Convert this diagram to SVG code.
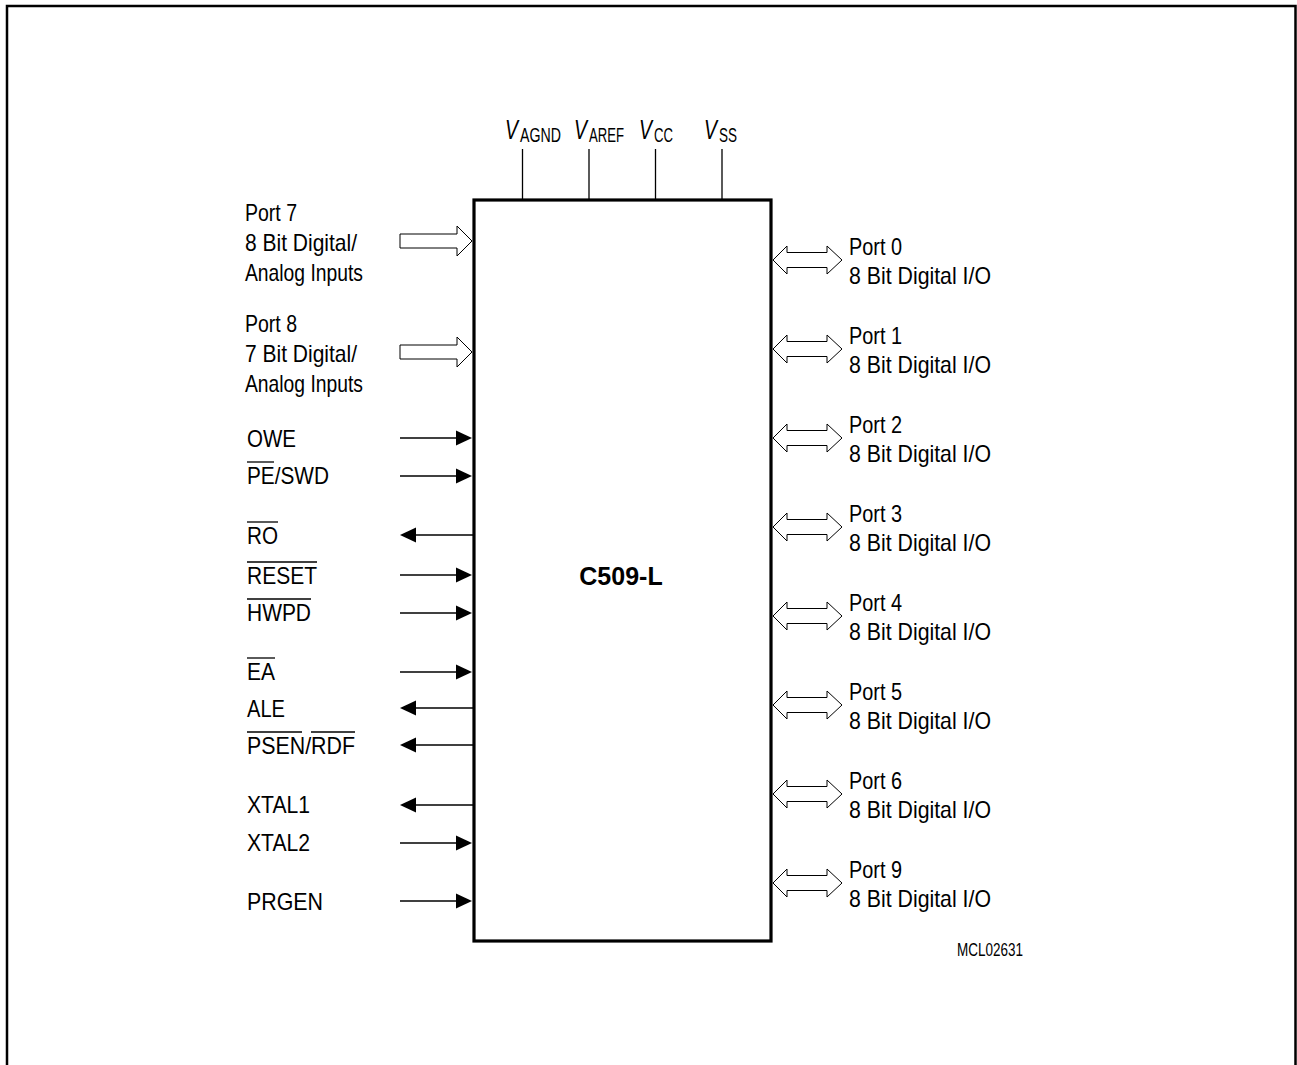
<svg xmlns="http://www.w3.org/2000/svg" xmlns:xlink="http://www.w3.org/1999/xlink" width="1297" height="1065" viewBox="0 0 1297 1065">
<style>
text{font-family:"Liberation Sans",Arial,sans-serif;fill:#000}
.t{font-size:24px}
.v{font-size:27px;font-style:italic}
.s{font-size:20px;font-style:normal}
.b{font-size:25px;font-weight:bold}
.m{font-size:19px}
.ln{stroke:#000;stroke-width:1.3;fill:none}
.ol{stroke:#000;stroke-width:1.3}
.hol{fill:#fff;stroke:#000;stroke-width:1}
</style>
<defs>
<polygon id="hin" class="hol" points="-72,-7 -15,-7 -15,-15 0,0 -15,15 -15,7 -72,7"/>
<polygon id="bid" class="hol" points="0,0 14,-14 14,-7.5 54,-7.5 54,-14 69,0 54,14 54,7.5 14,7.5 14,14"/>
<g id="ain"><line x1="-72" y1="0" x2="-14" y2="0" class="ln"/><polygon points="-16,-7.5 0,0 -16,7.5" fill="#000"/></g>
<g id="aout"><line x1="-56" y1="0" x2="1" y2="0" class="ln"/><polygon points="-72,0 -56,-7.5 -56,7.5" fill="#000"/></g>
</defs>
<path d="M7 1065 V6 H1295.5 V1065" fill="none" stroke="#000" stroke-width="2.5"/>
<g id="chip">
<rect x="474" y="200" width="297" height="741" fill="none" stroke="#000" stroke-width="3.2"/>
<text x="621" y="585" class="b" text-anchor="middle">C509-L</text>
</g>
<g id="supply">
<line x1="522.5" y1="149" x2="522.5" y2="199" class="ln"/>
<line x1="589" y1="149" x2="589" y2="199" class="ln"/>
<line x1="655.5" y1="149" x2="655.5" y2="199" class="ln"/>
<line x1="722" y1="149" x2="722" y2="199" class="ln"/>
<text class="v" y="139"><tspan x="505" textLength="13" lengthAdjust="spacingAndGlyphs">V</tspan><tspan class="s" x="520" y="142" textLength="41" lengthAdjust="spacingAndGlyphs">AGND</tspan></text>
<text class="v" y="139"><tspan x="574" textLength="13" lengthAdjust="spacingAndGlyphs">V</tspan><tspan class="s" x="589" y="142" textLength="35" lengthAdjust="spacingAndGlyphs">AREF</tspan></text>
<text class="v" y="139"><tspan x="639" textLength="13" lengthAdjust="spacingAndGlyphs">V</tspan><tspan class="s" x="654" y="142" textLength="19" lengthAdjust="spacingAndGlyphs">CC</tspan></text>
<text class="v" y="139"><tspan x="704" textLength="13" lengthAdjust="spacingAndGlyphs">V</tspan><tspan class="s" x="719" y="142" textLength="18" lengthAdjust="spacingAndGlyphs">SS</tspan></text>
</g>
<g id="connectors">
<use xlink:href="#hin" x="472" y="241"/>
<use xlink:href="#hin" x="472" y="352"/>
<use xlink:href="#ain" x="472" y="438"/>
<use xlink:href="#ain" x="472" y="476"/>
<use xlink:href="#aout" x="472" y="535"/>
<use xlink:href="#ain" x="472" y="575"/>
<use xlink:href="#ain" x="472" y="613"/>
<use xlink:href="#ain" x="472" y="672"/>
<use xlink:href="#aout" x="472" y="708"/>
<use xlink:href="#aout" x="472" y="745"/>
<use xlink:href="#aout" x="472" y="805"/>
<use xlink:href="#ain" x="472" y="843"/>
<use xlink:href="#ain" x="472" y="901"/>
<use xlink:href="#bid" x="773" y="260"/>
<use xlink:href="#bid" x="773" y="349"/>
<use xlink:href="#bid" x="773" y="438"/>
<use xlink:href="#bid" x="773" y="527"/>
<use xlink:href="#bid" x="773" y="616"/>
<use xlink:href="#bid" x="773" y="705"/>
<use xlink:href="#bid" x="773" y="794"/>
<use xlink:href="#bid" x="773" y="883"/>
</g>
<g id="port7">
<text x="245" y="221" class="t" textLength="52" lengthAdjust="spacingAndGlyphs">Port 7</text>
<text x="245" y="251" class="t" textLength="112" lengthAdjust="spacingAndGlyphs">8 Bit Digital/</text>
<text x="245" y="281" class="t" textLength="118" lengthAdjust="spacingAndGlyphs">Analog Inputs</text>
</g>
<g id="port8">
<text x="245" y="332" class="t" textLength="52" lengthAdjust="spacingAndGlyphs">Port 8</text>
<text x="245" y="362" class="t" textLength="112" lengthAdjust="spacingAndGlyphs">7 Bit Digital/</text>
<text x="245" y="392" class="t" textLength="118" lengthAdjust="spacingAndGlyphs">Analog Inputs</text>
</g>
<g id="owe"><text x="247" y="447" class="t" textLength="49" lengthAdjust="spacingAndGlyphs">OWE</text></g>
<g id="pe"><text x="247" y="484" class="t" textLength="82" lengthAdjust="spacingAndGlyphs">PE/SWD</text><line x1="247" y1="462" x2="274" y2="462" class="ol"/></g>
<g id="ro"><text x="247" y="544" class="t" textLength="31" lengthAdjust="spacingAndGlyphs">RO</text><line x1="247" y1="522" x2="278" y2="522" class="ol"/></g>
<g id="reset"><text x="247" y="584" class="t" textLength="70" lengthAdjust="spacingAndGlyphs">RESET</text><line x1="247" y1="562" x2="317" y2="562" class="ol"/></g>
<g id="hwpd"><text x="247" y="621" class="t" textLength="64" lengthAdjust="spacingAndGlyphs">HWPD</text><line x1="247" y1="599" x2="311" y2="599" class="ol"/></g>
<g id="ea"><text x="247" y="680" class="t" textLength="28" lengthAdjust="spacingAndGlyphs">EA</text><line x1="247" y1="658" x2="275" y2="658" class="ol"/></g>
<g id="ale"><text x="247" y="717" class="t" textLength="38" lengthAdjust="spacingAndGlyphs">ALE</text></g>
<g id="psen"><text x="247" y="754" class="t" textLength="108" lengthAdjust="spacingAndGlyphs">PSEN/RDF</text><line x1="247" y1="732" x2="302" y2="732" class="ol"/><line x1="311" y1="732" x2="355" y2="732" class="ol"/></g>
<g id="xtal1"><text x="247" y="813" class="t" textLength="63" lengthAdjust="spacingAndGlyphs">XTAL1</text></g>
<g id="xtal2"><text x="247" y="851" class="t" textLength="63" lengthAdjust="spacingAndGlyphs">XTAL2</text></g>
<g id="prgen"><text x="247" y="910" class="t" textLength="76" lengthAdjust="spacingAndGlyphs">PRGEN</text></g>
<g id="port0"><text x="849" y="255" class="t" textLength="53" lengthAdjust="spacingAndGlyphs">Port 0</text><text x="849" y="284" class="t" textLength="142" lengthAdjust="spacingAndGlyphs">8 Bit Digital I/O</text></g>
<g id="port1"><text x="849" y="344" class="t" textLength="53" lengthAdjust="spacingAndGlyphs">Port 1</text><text x="849" y="373" class="t" textLength="142" lengthAdjust="spacingAndGlyphs">8 Bit Digital I/O</text></g>
<g id="port2"><text x="849" y="433" class="t" textLength="53" lengthAdjust="spacingAndGlyphs">Port 2</text><text x="849" y="462" class="t" textLength="142" lengthAdjust="spacingAndGlyphs">8 Bit Digital I/O</text></g>
<g id="port3"><text x="849" y="522" class="t" textLength="53" lengthAdjust="spacingAndGlyphs">Port 3</text><text x="849" y="551" class="t" textLength="142" lengthAdjust="spacingAndGlyphs">8 Bit Digital I/O</text></g>
<g id="port4"><text x="849" y="611" class="t" textLength="53" lengthAdjust="spacingAndGlyphs">Port 4</text><text x="849" y="640" class="t" textLength="142" lengthAdjust="spacingAndGlyphs">8 Bit Digital I/O</text></g>
<g id="port5"><text x="849" y="700" class="t" textLength="53" lengthAdjust="spacingAndGlyphs">Port 5</text><text x="849" y="729" class="t" textLength="142" lengthAdjust="spacingAndGlyphs">8 Bit Digital I/O</text></g>
<g id="port6"><text x="849" y="789" class="t" textLength="53" lengthAdjust="spacingAndGlyphs">Port 6</text><text x="849" y="818" class="t" textLength="142" lengthAdjust="spacingAndGlyphs">8 Bit Digital I/O</text></g>
<g id="port9"><text x="849" y="878" class="t" textLength="53" lengthAdjust="spacingAndGlyphs">Port 9</text><text x="849" y="907" class="t" textLength="142" lengthAdjust="spacingAndGlyphs">8 Bit Digital I/O</text></g>
<g id="code"><text x="957" y="956" class="m" textLength="66" lengthAdjust="spacingAndGlyphs">MCL02631</text></g>
</svg>
